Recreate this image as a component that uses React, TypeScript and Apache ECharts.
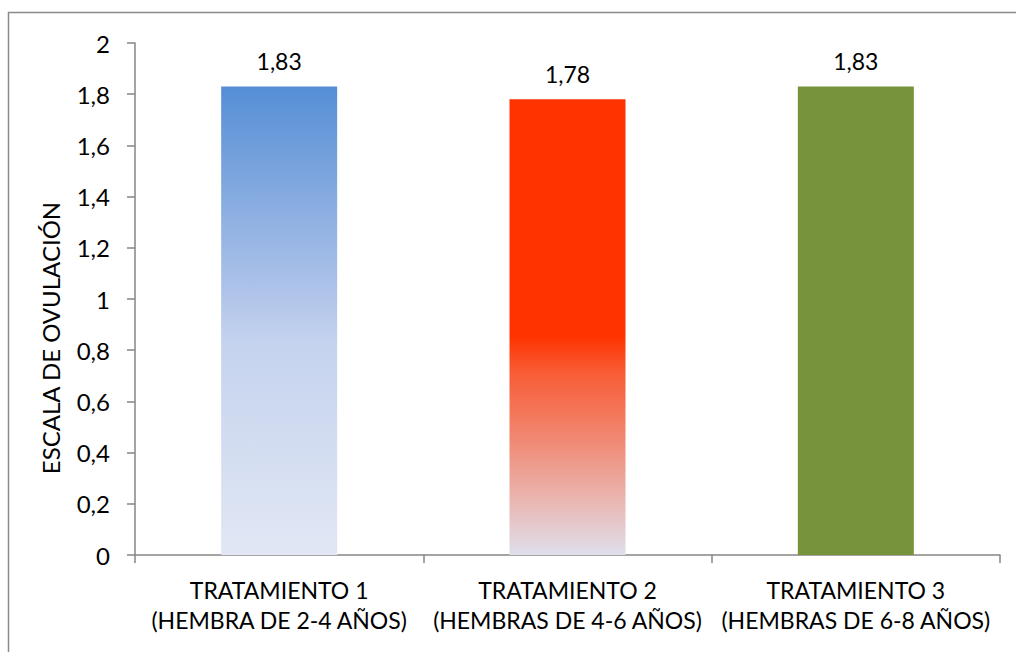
import React, { useEffect, useRef } from "react";
import * as echarts from "echarts";

// Ovulation scale per treatment group
const categories = [
  "TRATAMIENTO 1\n(HEMBRA DE 2-4 AÑOS)",
  "TRATAMIENTO 2\n(HEMBRAS DE 4-6 AÑOS)",
  "TRATAMIENTO 3\n(HEMBRAS DE 6-8 AÑOS)",
];
const values = [1.83, 1.78, 1.83];
const yAxisTitle = "ESCALA DE OVULACIÓN";

const FONT = "Lato, 'Open Sans', sans-serif";
const AXIS_GRAY = "#868686";

const fmt = (v: number) => String(v).replace(".", ",");

const barFills = [
  new echarts.graphic.LinearGradient(0, 0, 0, 1, [
    { offset: 0, color: "#558ED5" },
    { offset: 0.45, color: "#B1C5EA" },
    { offset: 0.55, color: "#C5D3EE" },
    { offset: 1, color: "#E1E7F4" },
  ]),
  new echarts.graphic.LinearGradient(0, 0, 0, 1, [
    { offset: 0, color: "#FF3300" },
    { offset: 0.52, color: "#FF3300" },
    { offset: 0.6, color: "#F85C36" },
    { offset: 0.75, color: "#F08A74" },
    { offset: 0.88, color: "#EAB6B1" },
    { offset: 1, color: "#DFDFEC" },
  ]),
  "#77933C",
];

export default function App() {
  const ref = useRef<HTMLDivElement>(null);

  useEffect(() => {
    if (!ref.current) return;
    const chart = echarts.init(ref.current, undefined, { renderer: "svg" });
    chart.setOption({
      animation: false,
      backgroundColor: "#ffffff",
      textStyle: { fontFamily: FONT },
      grid: { left: 135, right: 16, top: 43, bottom: 97, containLabel: false },
      xAxis: {
        type: "category",
        data: categories,
        boundaryGap: true,
        axisLine: { show: true, lineStyle: { color: AXIS_GRAY, width: 1.5 } },
        axisTick: { show: true, length: 8, alignWithLabel: false, lineStyle: { color: AXIS_GRAY, width: 1.5 } },
        axisLabel: {
          color: "#000",
          fontSize: 23,
          fontFamily: FONT,
          lineHeight: 30,
          margin: 20,
          interval: 0,
        },
        splitLine: { show: false },
      },
      yAxis: {
        type: "value",
        min: 0,
        max: 2,
        interval: 0.2,
        axisLine: { show: true, lineStyle: { color: AXIS_GRAY, width: 1.5 } },
        axisTick: { show: true, length: 8, lineStyle: { color: AXIS_GRAY, width: 1.5 } },
        axisLabel: {
          color: "#000",
          fontSize: 24,
          fontFamily: FONT,
          margin: 25,
          formatter: (v: number) => fmt(Math.round(v * 10) / 10),
        },
        splitLine: { show: false },
      },
      series: [
        {
          type: "bar",
          barWidth: 116,
          data: values.map((v, i) => ({ value: v, itemStyle: { color: barFills[i] } })),
          label: {
            show: true,
            position: "top",
            distance: 14,
            color: "#000",
            fontSize: 23,
            fontFamily: FONT,
            formatter: (p: any) => fmt(p.value),
          },
        },
      ],
      graphic: [
        {
          type: "rect",
          shape: { x: 8.5, y: 12.5, width: 1030, height: 660 },
          style: { fill: "none", stroke: "#8a8a8a", lineWidth: 1.5 },
          silent: true,
        },
        {
          type: "text",
          x: 50,
          y: 338,
          rotation: Math.PI / 2,
          style: {
            text: yAxisTitle,
            fontSize: 24,
            fontFamily: FONT,
            fill: "#000",
            align: "center",
            verticalAlign: "middle",
          },
        },
      ],
    });
    return () => chart.dispose();
  }, []);

  return (
    <div
      ref={ref}
      style={{ position: "fixed", left: 0, top: 0, width: 1016, height: 652 }}
    />
  );
}
